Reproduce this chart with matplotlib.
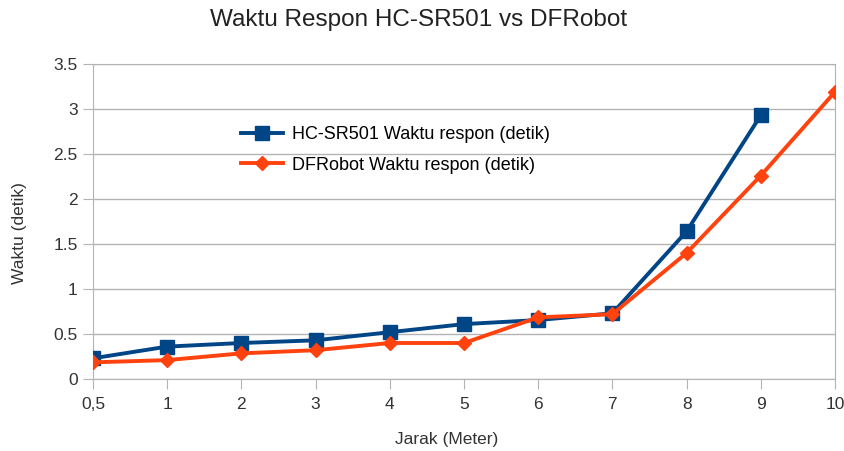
import matplotlib.pyplot as plt

jarak = ["0,5", "1", "2", "3", "4", "5", "6", "7", "8", "9", "10"]
hcsr501 = [0.23, 0.36, 0.40, 0.43, 0.52, 0.61, 0.655, 0.73, 1.64, 2.93, None]
dfrobot = [0.185, 0.21, 0.285, 0.32, 0.40, 0.40, 0.685, 0.72, 1.40, 2.26, 3.19]

plt.rcParams['font.family'] = ['Liberation Sans', 'DejaVu Sans']

fig = plt.figure(figsize=(8.45, 4.51), dpi=100)
ax = fig.add_axes([93/845, 1-379/451, (835-93)/845, (379-64)/451])

x = list(range(len(jarak)))
xb = [i for i, v in zip(x, hcsr501) if v is not None]
yb = [v for v in hcsr501 if v is not None]

ax.plot(xb, yb, color="#004586", lw=2.8, marker="s", ms=10,
        label="HC-SR501 Waktu respon (detik)", zorder=3)
ax.plot(x, dfrobot, color="#ff420e", lw=2.8, marker="D", ms=7.5,
        label="DFRobot Waktu respon (detik)", zorder=4)

ax.set_xlim(0, 10)
ax.set_ylim(0, 3.5)
ax.set_xticks(x)
ax.set_xticklabels(jarak)
ax.set_yticks([0, 0.5, 1, 1.5, 2, 2.5, 3, 3.5])
ax.set_yticklabels(["0", "0.5", "1", "1.5", "2", "2.5", "3", "3.5"])
ax.grid(axis="y", color="#b3b3b3", lw=1)
ax.set_axisbelow(True)
for s in ax.spines.values():
    s.set_color("#b3b3b3")
ax.tick_params(colors="#b3b3b3", labelcolor="#333333", labelsize=12.5, length=7)
ax.tick_params(axis="x", pad=6)
ax.tick_params(axis="y", pad=4)

ax.set_xlabel("Jarak (Meter)", fontsize=12.5, color="#333333")
ax.xaxis.set_label_coords((447-93)/742, -(432-379)/315)
ax.set_ylabel("Waktu (detik)", fontsize=12.5, color="#333333")
ax.yaxis.set_label_coords(-(93-27)/742, (379-233)/315)
fig.text(419/845, 1-20/451, "Waktu Respon HC-SR501 vs DFRobot", fontsize=17.5,
         ha="center", va="center", color="#222222")

leg = ax.legend(loc="upper left", bbox_to_anchor=(225/845, 1-110/451),
                bbox_transform=fig.transFigure, frameon=False, fontsize=13,
                handlelength=2.3, labelspacing=0.75, handletextpad=0.5)

fig.savefig("out.png", dpi=100)
